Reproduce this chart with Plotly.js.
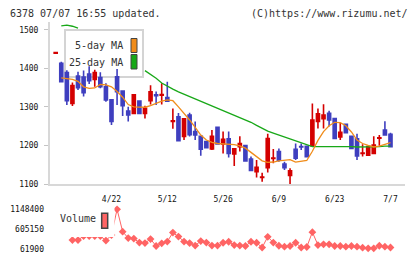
<!DOCTYPE html>
<html>
<head>
<meta charset="utf-8">
<script src="https://cdn.plot.ly/plotly-3.0.1.min.js"></script>
<style>
  html, body { margin: 0; padding: 0; background: #fff; }
  #chart { width: 420px; height: 259px; }
</style>
</head>
<body>
<div id="chart"></div>
<script>
// 6378 daily prices, trading days from 2021-04-08 to 2021-07-07
const dates = ['4/8','4/9','4/12','4/13','4/14','4/15','4/16','4/19','4/20','4/21',
  '4/22','4/23','4/26','4/27','4/28','4/30','5/6','5/7','5/10','5/11',
  '5/12','5/13','5/14','5/17','5/18','5/19','5/20','5/21','5/24','5/25',
  '5/26','5/27','5/28','5/31','6/1','6/2','6/3','6/4','6/7','6/8',
  '6/9','6/10','6/11','6/14','6/15','6/16','6/17','6/18','6/21','6/22',
  '6/23','6/24','6/25','6/28','6/29','6/30','7/1','7/2','7/5','7/6','7/7'];

const openPrice = [1439,1413,1389,1309,1380,1377,1385,1371,1376,1352,
  1318,1378,1341,1289,1283,1315,1283,1316,1331,1330,
  1324,1262,1274,1223,1279,1236,1224,1210,1191,1247,
  1204,1217,1178,1197,1200,1165,1132,1117,1142,1166,
  1184,1152,1122,1190,1197,1198,1199,1262,1269,1283,
  1270,1222,1255,1224,1217,1179,1175,1179,1219,1240,1229];
const highPrice = [1441,1417,1395,1363,1391,1394,1405,1396,1390,1361,
  1320,1398,1343,1300,1331,1317,1303,1356,1340,1361,
  1365,1296,1284,1270,1285,1262,1226,1212,1240,1249,
  1236,1236,1192,1224,1202,1171,1162,1129,1230,1191,
  1192,1158,1141,1205,1205,1200,1309,1296,1307,1290,
  1272,1259,1257,1226,1230,1203,1199,1224,1227,1263,1233];
const lowPrice = [1439,1364,1305,1302,1344,1327,1359,1352,1348,1313,
  1253,1305,1276,1262,1281,1282,1270,1306,1305,1306,
  1314,1243,1211,1214,1223,1214,1173,1192,1188,1202,
  1179,1169,1147,1184,1159,1133,1117,1106,1130,1154,
  1158,1136,1097,1162,1188,1170,1198,1244,1244,1249,
  1216,1214,1231,1191,1162,1171,1173,1179,1199,1227,1197];
const closePrice = [1441,1365,1316,1355,1350,1337,1368,1389,1352,1318,
  1262,1339,1303,1279,1331,1283,1296,1339,1329,1332,
  1315,1264,1212,1269,1228,1227,1190,1194,1224,1204,
  1216,1179,1191,1205,1160,1135,1143,1118,1218,1167,
  1162,1142,1134,1167,1196,1171,1266,1282,1279,1266,
  1218,1234,1233,1192,1173,1180,1197,1201,1220,1227,1197];

// moving averages as plotted (null where the line is not drawn)
const ma5 = [null,1375,1373,1371,1366,1352,1348,1349,1358,1357,
  1352,1340,1325,1306,1300,1299,1299,1303,1310,1315,
  1318,1316,1300,1284,1266,1247,1227,1214,1208,1205,
  1204,1203,1202,1199,1193,1182,1170,1160,1156,1157,
  1160,1161,1163,1157,1159,1161,1185,1213,1236,1251,
  1260,1259,1251,1235,1214,1205,1200,1196,1198,1203,1207];
const ma25 = [null,1510,1512,1509,1504,null,null,null,null,null,
  null,null,null,null,null,null,1394,1385,1374,1362,
  1353,1346,1339,1333,1327,1322,1315,1309,1304,1297,
  1291,1285,1279,1272,1266,1260,1252,1244,1237,1232,
  1227,1222,1217,1212,1206,1201,1197,1197,1197,1198,
  1198,1197,1197,1197,1196,1196,1197,1197,1197,1198,1198];

const volume = [null,null,null,306400,306400,415000,415000,415000,415000,292800,
  442200,1148400,537200,360700,347100,238500,224900,333500,143400,216700,
  265600,510100,401400,265600,224900,157000,279200,238500,157000,157000,
  233000,260200,170600,157000,143400,260200,233000,102600,396000,238500,
  151500,124400,143400,233000,102600,116200,523700,170600,189600,189600,
  143400,143400,124400,143400,124400,97200,80900,80900,151500,124400,102600];

const dateLabels = ['4/22','5/12','5/26','6/9','6/23','7/7'];
const priceTicks = [1100,1200,1300,1400,1500];
const volumeTicks = [61900,605150,1148400];

const UP = '#d40000', DOWN = '#3f3fbf';
const MA5_COLOR = '#f08c1a', MA25_COLOR = '#18a818', VOL_COLOR = '#ff6464';
const AXIS = '#d8d8d8', TICK = '#c4c4c4', LABEL = '#111';
const MONO = '"DejaVu Sans Mono", monospace';

const traces = [
  { type: 'scatter', mode: 'lines', x: dates, y: ma25, xaxis: 'x', yaxis: 'y',
    line: { color: MA25_COLOR, width: 1.3 }, connectgaps: false, hoverinfo: 'skip' },
  { type: 'scatter', mode: 'lines', x: dates, y: ma5, xaxis: 'x', yaxis: 'y',
    line: { color: MA5_COLOR, width: 1.3 }, connectgaps: false, hoverinfo: 'skip' },
  { type: 'candlestick', x: dates, open: openPrice, high: highPrice, low: lowPrice, close: closePrice,
    xaxis: 'x', yaxis: 'y', whiskerwidth: 0,
    increasing: { line: { color: UP, width: 1.6 }, fillcolor: UP },
    decreasing: { line: { color: DOWN, width: 1.6 }, fillcolor: DOWN } },
  { type: 'scatter', mode: 'lines+markers', x: dates, y: volume, xaxis: 'x2', yaxis: 'y2',
    line: { color: VOL_COLOR, width: 1 }, marker: { symbol: 'diamond', size: 6, color: VOL_COLOR },
    connectgaps: false, cliponaxis: false }
];

const xRange = [-1.02, 62.6];
// eleven evenly spaced guide ticks along the time axis, crossing the axis line
const tickGuide = { range: [0, 11], tickmode: 'linear', tick0: 0, dtick: 1, ticklen: 4, tickwidth: 1,
  tickcolor: TICK, showticklabels: false, showgrid: false, zeroline: false, showline: false };

const layout = {
  width: 420, height: 259,
  margin: { l: 50, r: 15, t: 22, b: 10 },
  paper_bgcolor: '#fff', plot_bgcolor: '#fff',
  showlegend: false, boxgap: 0.22,
  font: { family: MONO, size: 8, color: LABEL },
  xaxis: { type: 'category', anchor: 'y', range: xRange, rangeslider: { visible: false },
    showgrid: false, zeroline: false, showline: true, linecolor: AXIS, linewidth: 2,
    ticks: '', tickmode: 'array', tickvals: dateLabels, ticktext: dateLabels,
    ticklabelstandoff: 6, tickfont: { family: MONO, size: 8, color: LABEL } },
  xaxis3: Object.assign({ overlaying: 'x', anchor: 'y', side: 'bottom', ticks: 'outside' }, tickGuide),
  xaxis4: Object.assign({ overlaying: 'x', anchor: 'y', side: 'bottom', ticks: 'inside' }, tickGuide),
  yaxis: { domain: [0.2863, 1], anchor: 'x', range: [1100, 1520],
    tickmode: 'array', tickvals: priceTicks, ticks: 'outside', ticklen: 4, tickwidth: 1, tickcolor: TICK,
    showline: true, linecolor: AXIS, linewidth: 2, showgrid: false, zeroline: false,
    ticklabelstandoff: 4, tickfont: { family: MONO, size: 8, color: LABEL } },
  yaxis3: { overlaying: 'y', anchor: 'x', side: 'left', range: [1100, 1520],
    tickmode: 'array', tickvals: priceTicks, ticks: 'inside', ticklen: 4, tickwidth: 1, tickcolor: TICK,
    showticklabels: false, showline: false, showgrid: false, zeroline: false },
  xaxis2: { type: 'category', anchor: 'y2', range: xRange, showgrid: false, zeroline: false,
    showline: false, showticklabels: false, ticks: '' },
  yaxis2: { domain: [0, 0.1749], anchor: 'x2', range: [61900, 1148400],
    tickmode: 'array', tickvals: volumeTicks, tickformat: 'd', ticks: '',
    showline: false, showgrid: false, zeroline: false, ticklabelstandoff: 5,
    tickfont: { family: MONO, size: 8, color: LABEL } },
  shapes: [
    // price legend frame
    { type: 'rect', xref: 'paper', yref: 'paper', x0: 0.0423, x1: 0.262, y0: 0.7577, y1: 0.9648,
      fillcolor: '#fff', line: { color: '#d4d4d4', width: 2 }, layer: 'below' },
    { type: 'rect', xref: 'paper', yref: 'paper', x0: 0.2282, x1: 0.2451, y0: 0.8656, y1: 0.9273,
      fillcolor: MA5_COLOR, line: { color: '#444', width: 1 }, layer: 'above' },
    { type: 'rect', xref: 'paper', yref: 'paper', x0: 0.2282, x1: 0.2451, y0: 0.7930, y1: 0.8568,
      fillcolor: MA25_COLOR, line: { color: '#444', width: 1 }, layer: 'above' },
    // volume legend
    { type: 'rect', xref: 'paper', yref: 'paper', x0: 0.0169, x1: 0.1817, y0: 0.0529, y1: 0.1982,
      fillcolor: '#fff', line: { width: 0 }, layer: 'above' },
    { type: 'rect', xref: 'paper', yref: 'paper', x0: 0.1456, x1: 0.1625, y0: 0.0912, y1: 0.1573,
      fillcolor: VOL_COLOR, line: { color: '#444', width: 1.5 }, layer: 'above' }
  ],
  annotations: [
    { text: '6378 07/07 16:55 updated.', xref: 'paper', yref: 'paper', x: -0.1183, y: 1.0374,
      xanchor: 'left', yanchor: 'middle', showarrow: false, font: { family: MONO, size: 10, color: '#333' } },
    { text: '(C)https://www.rizumu.net/', xref: 'paper', yref: 'paper', x: 1.0141, y: 1.0374,
      xanchor: 'right', yanchor: 'middle', showarrow: false, font: { family: MONO, size: 10, color: '#333' } },
    { text: '5-day MA', xref: 'paper', yref: 'paper', x: 0.2113, y: 0.8943,
      xanchor: 'right', yanchor: 'middle', showarrow: false, font: { family: MONO, size: 10, color: '#333' } },
    { text: '25-day MA', xref: 'paper', yref: 'paper', x: 0.2113, y: 0.8216,
      xanchor: 'right', yanchor: 'middle', showarrow: false, font: { family: MONO, size: 10, color: '#333' } },
    { text: 'Volume', xref: 'paper', yref: 'paper', x: 0.0225, y: 0.1344,
      xanchor: 'left', yanchor: 'middle', showarrow: false, font: { family: MONO, size: 10, color: '#333' } }
  ]
};

Plotly.newPlot('chart', traces, layout, { staticPlot: true, displayModeBar: false });
</script>
</body>
</html>
